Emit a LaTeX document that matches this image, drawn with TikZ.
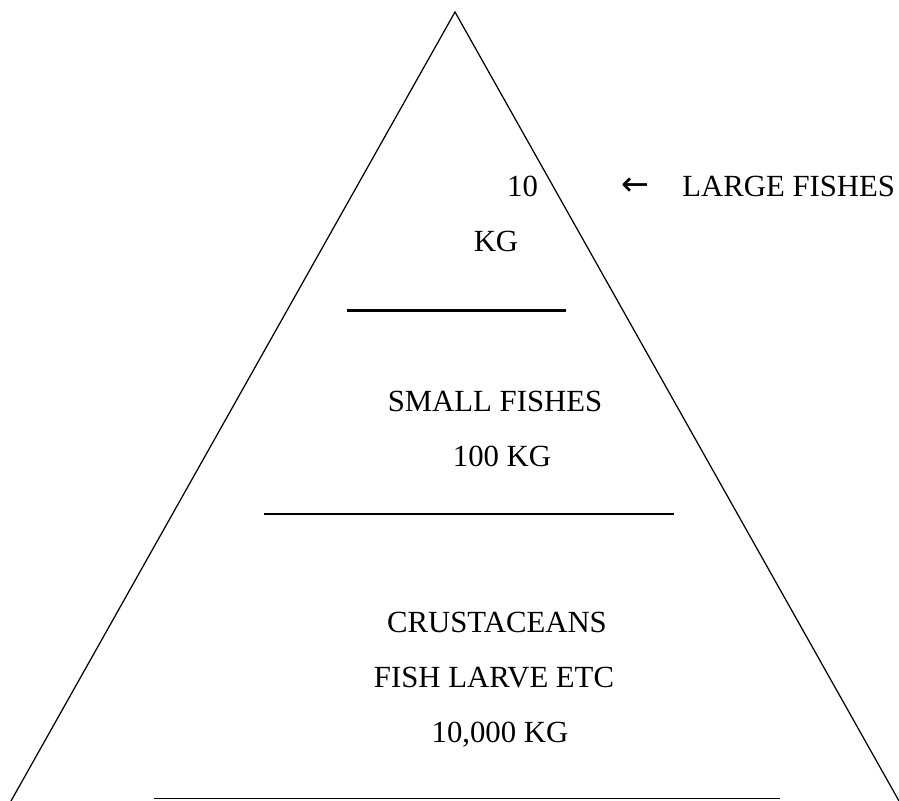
\documentclass[tikz,border=0pt]{standalone}
\usepackage{fontspec}
\setmainfont{Liberation Serif}
\newfontfamily\arrowfont{DejaVu Sans}
\usepackage{tikz}

\tikzset{
  lbl/.style={anchor=base, inner sep=0pt, font=\fontsize{17.5}{21}\selectfont},
  tier/.style={line width=1pt}
}

\begin{document}
\begin{tikzpicture}
\useasboundingbox (0,0) rectangle (17.98,16.02);
\coordinate (apex) at (9.10,15.78);
\coordinate (bl) at (0.22,0);
\coordinate (br) at (17.98,0);
\draw[line width=0.7pt] (bl) -- (apex) -- (br);
\draw[line width=1.7pt] (6.94,9.80) -- (11.32,9.80);
\draw[tier] (5.28,5.74) -- (13.48,5.74);
\draw[tier] (3.08,0.05) -- (15.60,0.05);
\node[lbl] (ten) at (10.45,12.08) {10};
\node[lbl] (kg) at (9.92,10.98) {KG};
\node[lbl, font=\fontsize{19}{22}\arrowfont] (arr) at (12.71,12.10) {←};
\node[lbl, anchor=base west] (large) at (13.64,12.08) {LARGE FISHES};
\node[lbl] (small) at (9.90,7.78) {SMALL FISHES};
\node[lbl] (hundred) at (10.04,6.68) {100 KG};
\node[lbl] (crust) at (9.94,3.36) {CRUSTACEANS};
\node[lbl] (larve) at (9.88,2.26) {FISH LARVE ETC};
\node[lbl] (tenk) at (10.00,1.16) {10,000 KG};
\end{tikzpicture}
\end{document}
